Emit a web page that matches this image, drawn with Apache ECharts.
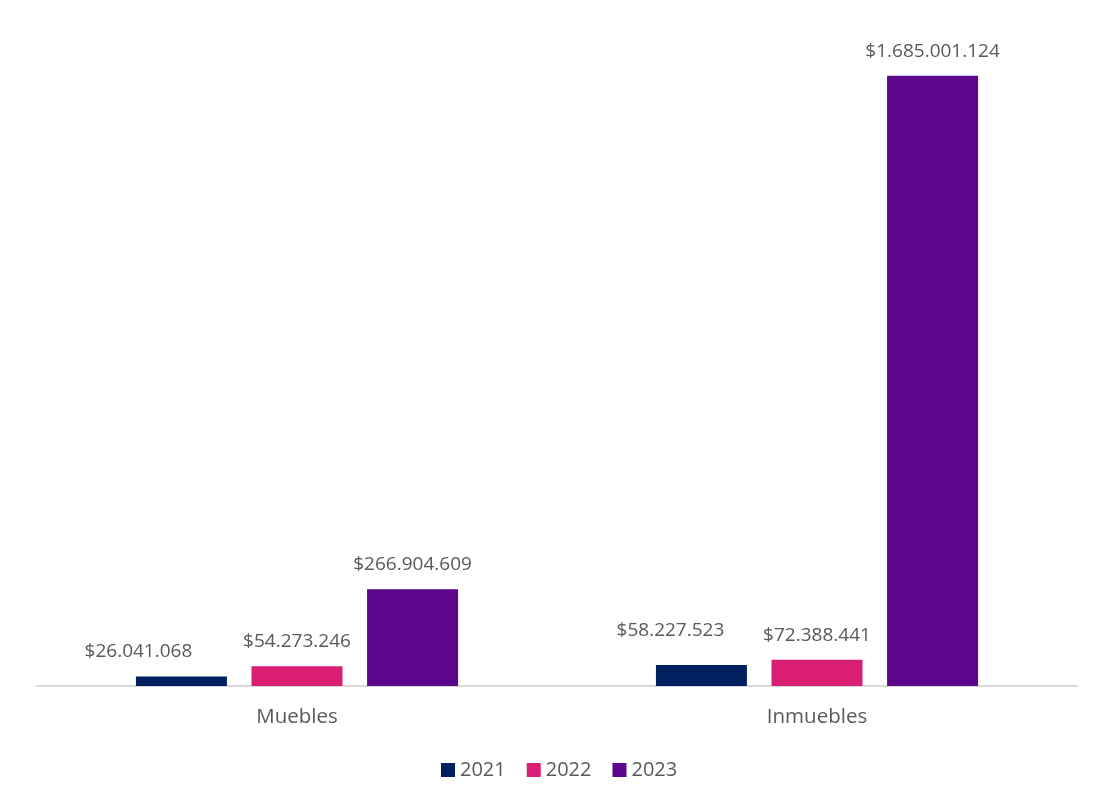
<!DOCTYPE html>
<html>
<head>
<meta charset="utf-8">
<script src="https://cdn.jsdelivr.net/npm/echarts@6/dist/echarts.min.js"></script>
<style>
html,body{margin:0;padding:0;background:#fff;}
#chart{width:1099px;height:806px;}
</style>
</head>
<body>
<div id="chart"></div>
<script>
const categories = ['Muebles', 'Inmuebles'];
const seriesNames = ['2021', '2022', '2023'];
const values2021 = [26041068, 58227523];
const values2022 = [54273246, 72388441];
const values2023 = [266904609, 1685001124];
const colors = ['#002060', '#D91F73', '#5C068C'];

function fmt(v) {
  return '$' + String(v).replace(/\B(?=(\d{3})+(?!\d))/g, '.');
}

const labelBase = {
  show: true,
  position: 'top',
  distance: 15,
  color: '#595959',
  fontFamily: 'Open Sans',
  fontSize: 19,
  formatter: p => fmt(p.value)
};

function mkData(vals, offsets) {
  return vals.map((v, i) => {
    const o = offsets ? offsets[i] : null;
    return o ? { value: v, label: { offset: o } } : { value: v };
  });
}

const chart = echarts.init(document.getElementById('chart'));
chart.setOption({
  animation: false,
  color: colors,
  grid: { left: 37, right: 22, top: 34, bottom: 120 },
  legend: {
    bottom: 21,
    left: 436,
    itemWidth: 14,
    itemHeight: 14,
    itemGap: 21,
    icon: 'rect',
    textStyle: { color: '#595959', fontFamily: 'Open Sans', fontSize: 20 },
    data: seriesNames
  },
  xAxis: {
    type: 'category',
    data: categories,
    axisLine: { lineStyle: { color: '#D9D9D9', width: 2 } },
    axisTick: { show: false },
    axisLabel: { color: '#595959', fontFamily: 'Open Sans', fontSize: 20.5, margin: 21 }
  },
  yAxis: {
    type: 'value',
    min: 0,
    max: 1800000000,
    show: false,
    splitLine: { show: false }
  },
  series: [
    { name: seriesNames[0], type: 'bar', barWidth: 91, barGap: '27%', data: mkData(values2021, [[-43, 0], [-31, -10]]), label: labelBase },
    { name: seriesNames[1], type: 'bar', barWidth: 91, barGap: '27%', data: mkData(values2022), label: labelBase },
    { name: seriesNames[2], type: 'bar', barWidth: 91, barGap: '27%', data: mkData(values2023), label: labelBase }
  ]
});
</script>
</body>
</html>
